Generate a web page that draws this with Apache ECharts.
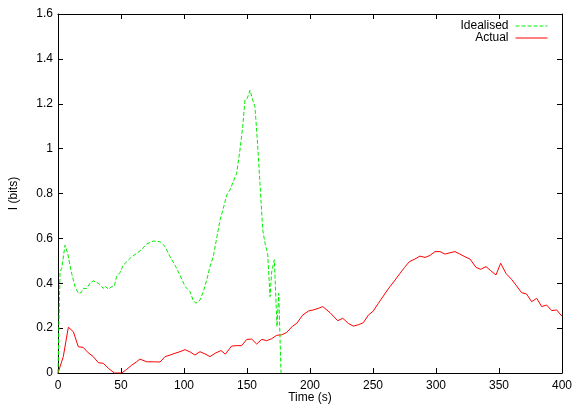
<!DOCTYPE html>
<html><head><meta charset="utf-8">
<script src="https://cdn.jsdelivr.net/npm/echarts@6/dist/echarts.min.js"></script>
<style>html,body{margin:0;padding:0;background:#fff;overflow:hidden}#c{width:581px;height:407px}</style>
</head><body><div id="c"></div>
<script>
var seriesNames = ['Idealised', 'Actual'];
var xTicks = [0, 50, 100, 150, 200, 250, 300, 350, 400];
var yTicks = [0, 0.2, 0.4, 0.6, 0.8, 1, 1.2, 1.4, 1.6];
var idealised = [[0,0],[1.6,0.451],[2.9,0.466],[5.6,0.57],[7.7,0.533],[10.8,0.444],[13.5,0.385],[16.1,0.355],[18.3,0.358],[20.1,0.377],[22.8,0.377],[25.4,0.4],[28,0.411],[29.4,0.418],[32,0.4],[36,0.377],[37.3,0.388],[40,0.373],[42.6,0.385],[44.7,0.388],[46.6,0.432],[49.2,0.447],[51.8,0.481],[54.5,0.496],[58.5,0.518],[62.4,0.533],[65.9,0.548],[70.4,0.575],[75.6,0.588],[81,0.585],[84.9,0.564],[88.9,0.518],[92.9,0.48],[96.8,0.436],[100.8,0.386],[104.8,0.362],[107.4,0.322],[109.5,0.311],[112.7,0.325],[115.3,0.362],[118,0.414],[120.6,0.474],[123.3,0.52],[125.9,0.6],[128.6,0.682],[131.2,0.734],[133.9,0.793],[136.5,0.816],[139.1,0.853],[141.8,0.89],[144.4,0.994],[146.6,1.098],[148.4,1.217],[150.2,1.224],[152.4,1.261],[154.5,1.217],[156.3,1.187],[158.2,1.038],[160.3,0.845],[162.5,0.637],[164.3,0.578],[166.4,0.533],[168.3,0.34],[169.6,0.451],[171.7,0.505],[173.8,0.206],[175.2,0.355],[177,0]];
var actual = [[0,0],[4.2,0.073],[8.2,0.204],[12.2,0.184],[16.1,0.117],[20,0.114],[24,0.09],[28,0.073],[32,0.046],[36,0.043],[40,0.021],[44.7,0],[50.5,0],[54.5,0.016],[58.5,0.035],[62.4,0.05],[65,0.062],[70.4,0.05],[75.7,0.05],[81,0.049],[84.9,0.073],[88.9,0.08],[92.9,0.088],[96.8,0.095],[100.8,0.104],[104.8,0.094],[108.7,0.08],[112.7,0.095],[116.7,0.085],[120.6,0.073],[125.4,0.09],[129.4,0.1],[132.8,0.084],[137.8,0.12],[141.8,0.122],[145.8,0.122],[149.8,0.15],[153.7,0.151],[157.7,0.129],[161.7,0.15],[165.6,0.144],[169.6,0.153],[173.6,0.168],[177.5,0.17],[181.5,0.181],[186.2,0.209],[189.4,0.221],[194.2,0.258],[198.7,0.276],[202.6,0.281],[206.5,0.288],[210.1,0.296],[215.9,0.269],[222,0.233],[226,0.244],[230.4,0.221],[234.4,0.209],[238.3,0.215],[242.3,0.224],[246.3,0.258],[250.2,0.276],[254.2,0.31],[258.2,0.343],[262.5,0.378],[267.5,0.414],[271.4,0.444],[275,0.47],[278.8,0.496],[283.3,0.508],[287.3,0.521],[291.3,0.515],[295.2,0.524],[299.2,0.541],[303.2,0.541],[307.1,0.53],[311.1,0.536],[315.1,0.541],[319,0.53],[323,0.518],[327,0.508],[331.7,0.471],[335.4,0.462],[339.7,0.474],[343.4,0.456],[347.6,0.437],[351.3,0.489],[355.5,0.444],[360,0.417],[364,0.388],[367.9,0.358],[371.9,0.352],[375.9,0.318],[379.9,0.333],[383.9,0.296],[387.8,0.303],[391.8,0.278],[395.8,0.281],[399.8,0.254]];

var FONT = 'Liberation Sans';
var GREEN = '#00ee00', RED = '#ff0000';
var xMin = xTicks[0], xMax = xTicks[xTicks.length-1], xInt = xTicks[1]-xTicks[0];
var yMin = yTicks[0], yMax = yTicks[yTicks.length-1], yInt = 0.2;
var axLine = {show:true, onZero:false, lineStyle:{color:'#000', width:1}};
var tick = {show:true, inside:true, length:5, lineStyle:{color:'#000', width:1}};
var chart = echarts.init(document.getElementById('c'), null, {renderer:'canvas', width:581, height:407});
chart.setOption({
  animation:false,
  backgroundColor:'#fff',
  textStyle:{fontFamily:FONT},
  grid:{left:58, right:19, top:14, bottom:34, containLabel:false, outerBoundsMode:'none'},
  legend:{
    data:[
      {name:seriesNames[0], lineStyle:{color:GREEN, width:1, type:[4,2]}},
      {name:seriesNames[1], lineStyle:{color:RED, width:1, type:'solid'}}
    ],
    orient:'vertical', align:'right', right:33, top:20,
    itemWidth:32, itemHeight:8, itemGap:0,
    itemStyle:{color:'transparent', borderWidth:0, opacity:0},
    lineStyle:{width:1},
    textStyle:{fontFamily:FONT, fontSize:12, color:'#000', lineHeight:11, padding:[0,2,0,0]},
    padding:0
  },
  xAxis:[
    {type:'value', min:xMin, max:xMax, interval:xInt, position:'bottom',
     name:'Time (s)', nameLocation:'middle', nameGap:19, nameMoveOverlap:false,
     nameTextStyle:{fontFamily:FONT, fontSize:12, color:'#000'},
     axisLine:axLine, axisTick:tick, splitLine:{show:false},
     axisLabel:{fontFamily:FONT, fontSize:12, color:'#000', margin:7}},
    {type:'value', min:xMin, max:xMax, interval:xInt, position:'top',
     axisLine:axLine, axisTick:tick, splitLine:{show:false}, axisLabel:{show:false}}
  ],
  yAxis:[
    {type:'value', min:yMin, max:yMax, interval:yInt, position:'left',
     name:'I (bits)', nameLocation:'middle', nameGap:38, nameRotate:90, nameMoveOverlap:false,
     nameTextStyle:{fontFamily:FONT, fontSize:12, color:'#000'},
     axisLine:axLine, axisTick:tick, splitLine:{show:false},
     axisLabel:{fontFamily:FONT, fontSize:12, color:'#000', margin:5}},
    {type:'value', min:yMin, max:yMax, interval:yInt, position:'right',
     axisLine:axLine, axisTick:tick, splitLine:{show:false}, axisLabel:{show:false}}
  ],
  series:[
    {name:seriesNames[0], type:'line', data:idealised, symbol:'none', smooth:false,
     lineStyle:{color:GREEN, width:1, type:[4,2]}, itemStyle:{color:GREEN}, z:3},
    {name:seriesNames[1], type:'line', data:actual, symbol:'none', smooth:false,
     lineStyle:{color:RED, width:1}, itemStyle:{color:RED}, z:2}
  ]
});
</script></body></html>
